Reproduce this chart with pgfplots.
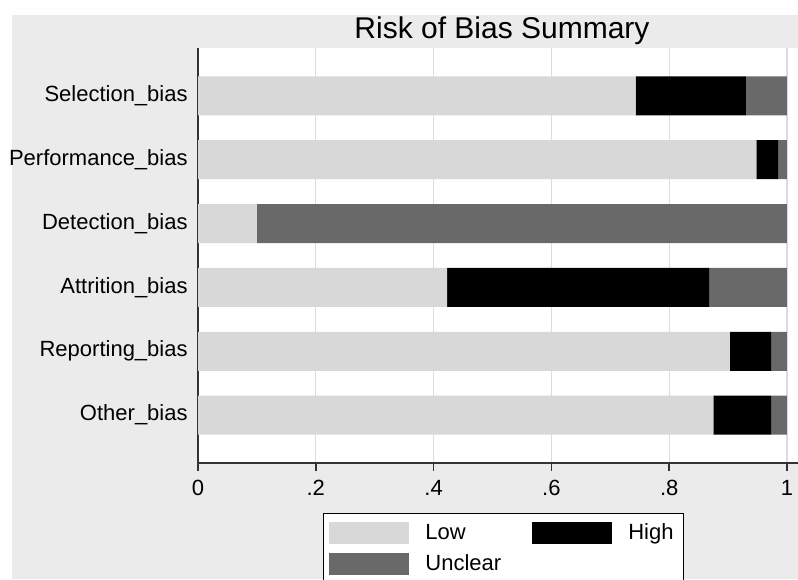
\documentclass[border=0pt]{standalone}
\usepackage{pgfplots}
\pgfplotsset{compat=1.18}
\usepackage{fontspec}
\setmainfont{Liberation Sans}
\definecolor{bg}{HTML}{EBEBEB}
\definecolor{lowc}{HTML}{D8D8D8}
\definecolor{uncl}{HTML}{696969}
\definecolor{gridc}{HTML}{DCDCDC}
\definecolor{axc}{HTML}{333333}
\begin{document}
\begin{tikzpicture}
\path[use as bounding box] (0,0) rectangle (399pt,289.5pt);
\clip (0,0) rectangle (399pt,289.5pt);
\fill[bg] (6pt,0) rectangle (399pt,282pt);
\begin{axis}[
  at={(99pt,58pt)}, anchor=south west,
  scale only axis, width=300pt, height=207.5pt,
  xbar stacked, bar width=19.5pt,
  xmin=0, xmax=1.0187, ymin=0.25, ymax=6.75,
  axis x line=bottom, axis y line=left,
  axis line style={-, draw=axc, line width=0.75pt},
  axis background/.style={fill=white},
  xtick={0,0.2,0.4,0.6,0.8,1}, xticklabels={0,.2,.4,.6,.8,1},
  ytick={1,2,3,4,5,6},
  yticklabels={Other\_bias,Reporting\_bias,Attrition\_bias,Detection\_bias,Performance\_bias,Selection\_bias},
  xmajorgrids, major grid style={gridc, line width=0.6pt},
  xtick align=outside, ytick align=inside,
  major tick length=4pt,
  x tick style={axc, line width=0.75pt},
  y tick style={draw=none},
  tick label style={font=\fontsize{11pt}{13pt}\selectfont},
  yticklabel style={inner xsep=0pt, xshift=-5pt},
  xticklabel style={yshift=-1pt},
  title={Risk of Bias Summary},
  title style={font=\fontsize{15pt}{17pt}\selectfont, anchor=base, at={(0.5,1)}, yshift=-1pt, xshift=2pt},
  legend columns=2,
  legend cell align=left,
  legend image code/.code={\fill[#1] (0pt,-5.5pt) rectangle (40pt,5.5pt); \path (46pt,0pt);},
  legend style={at={(0.2083,-0.1205)}, anchor=north west, draw=black, line width=0.5pt,
    fill=white, font=\fontsize{11pt}{13pt}\selectfont, inner xsep=3pt, inner ysep=3pt,
    row sep=2pt, /tikz/every even column/.append style={column sep=13.5pt}},
]
\addplot[fill=lowc, draw=none] coordinates {(0.875,1) (0.903,2) (0.423,3) (0.100,4) (0.948,5) (0.743,6)};
\addplot[fill=black, draw=none] coordinates {(0.098,1) (0.070,2) (0.445,3) (0.000,4) (0.037,5) (0.187,6)};
\addplot[fill=uncl, draw=none] coordinates {(0.027,1) (0.027,2) (0.132,3) (0.900,4) (0.015,5) (0.070,6)};
\legend{Low, High, Unclear}
\end{axis}
\end{tikzpicture}
\end{document}
